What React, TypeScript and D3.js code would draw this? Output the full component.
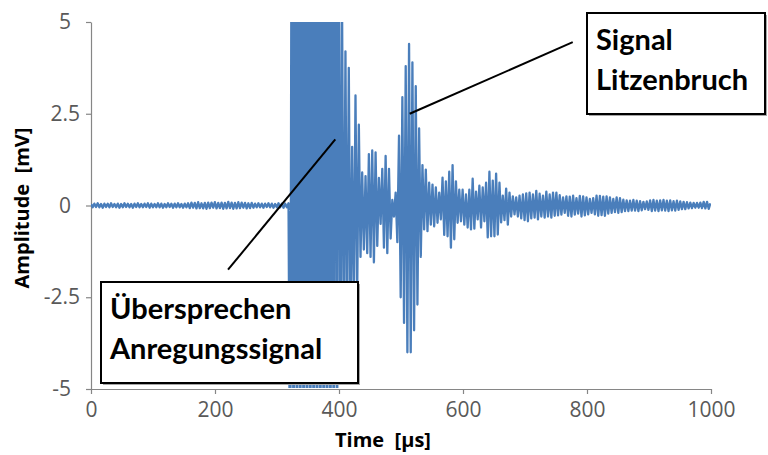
import * as d3 from 'd3'
import { useEffect, useRef } from 'react'

const width = 768, height = 455

// time between two successive extrema of the trace, in µs
const halfPeriod = 2.7

// extrema (mV), one every halfPeriod, in order
const quietNoise = [
  0.04, -0.05, 0.05, -0.04, 0.06, -0.05, 0.04, -0.06, 0.05, -0.04,
  0.05, -0.05, 0.06, -0.04, 0.04, -0.05, 0.05, -0.06, 0.04, -0.05,
  0.06, -0.04, 0.05, -0.05, 0.04, -0.06, 0.05, -0.04, 0.06, -0.05,
  0.04, -0.05, 0.05, -0.04, 0.06, -0.06, 0.05, -0.05, 0.04, -0.05,
  0.06, -0.05, 0.05, -0.06, 0.04, -0.05, 0.06, -0.04, 0.05, -0.06,
  0.05, -0.05, 0.06, -0.05, 0.04, -0.06, 0.05, -0.05, 0.06,
  -0.07, 0.08, -0.06, 0.07, -0.08, 0.09, -0.07, 0.06, -0.08, 0.07,
  -0.09, 0.08, -0.07, 0.08, -0.06, 0.09, -0.08, 0.07, -0.07, 0.08,
  -0.09, 0.07, -0.08, 0.1, -0.07, 0.08, -0.09, 0.07, -0.08, 0.09,
  -0.07, 0.08, -0.06, 0.07, -0.08, 0.06, -0.07, 0.07,
  -0.06, 0.05, -0.05, 0.06, -0.05, 0.05, -0.06, 0.05, -0.04, 0.06,
  -0.05, 0.05, -0.06, 0.04, -0.05, 0.06, -0.05, 0.05, -0.06, 0.05, -0.05, 0.06,
]
// saturated crosstalk: both sides run past the ±5 mV scale
const crosstalkBurst = [
  -9, 13, -9, 13, -9, 13, -9, 13, -9, 13,
  -9, 13, -9, 13, -9, 13, -9, 13, -9, 13,
  -9, 13, -9, 13, -9, 13, -9, 13,
]
const crosstalkDecay = [
  -7, 9, -4.6, 5.2, -4.0, 4.2, -3.6, 3.75, -3.2, 1.6,
  -2.8, 3.0, -2.4, 2.2, -1.4, 0.9, -1.2, 0.8, -1.3, 1.4,
  -1.4, 1.5, -1.55, 1.45, -1.1, 0.75, -0.5, 1.0, -1.15, 1.35,
  -1.3, 1.0, -0.9, 0.15, -0.3,
]
const breakPacket = [
  0.35, -1.0, 1.9, -2.5, 2.95, -3.2, 3.8, -4.0, 4.4, -4.0,
  3.9, -3.4, 3.25, -2.7, 2.1, -1.4, 1.1, -0.65, 0.98, -0.7,
]
const tail = [
  0.62, -0.52, 0.57, -0.57, 0.49, -0.47, 0.35, -0.38, 0.76, -0.8,
  0.66, -0.84, 0.92, -1.15, 1.1, -0.92, 0.66, -0.47, 0.43, -0.43,
  0.43, -0.52, 0.3, -0.6, 0.43, -0.65, 0.73, -0.63, 0.38, -0.38,
  0.54, -0.6, 0.49, -0.43, 0.62, -0.87, 0.92, -0.84, 0.68, -0.84,
  0.87, -0.79, 0.62, -0.46, 0.27, -0.4, 0.46, -0.52, 0.35, -0.3,
  0.25, -0.24, 0.22, -0.3, 0.27, -0.35, 0.3, -0.4, 0.33, -0.43,
  0.35, -0.35, 0.3, -0.33, 0.4, -0.38, 0.32, -0.3, 0.27, -0.33,
  0.38, -0.3, 0.3, -0.33, 0.35, -0.28, 0.35, -0.27, 0.28, -0.25,
  0.22, -0.2, 0.25, -0.28, 0.24, -0.3, 0.27, -0.25, 0.2, -0.22,
  0.26, -0.3, 0.25, -0.27, 0.22, -0.24, 0.18, -0.2, 0.2, -0.24,
  0.27, -0.28, 0.26, -0.26, 0.24, -0.28, 0.25, -0.22, 0.22, -0.2,
  0.18, -0.18, 0.22, -0.2, 0.2, -0.18, 0.16, -0.15, 0.14, -0.15,
  0.13, -0.14, 0.15, -0.14, 0.13, -0.15, 0.12, -0.13, 0.1, -0.1,
  0.11, -0.12, 0.14, -0.15, 0.15, -0.14, 0.13, -0.15, 0.14, -0.13,
  0.15, -0.14, 0.13, -0.15, 0.14, -0.13, 0.12, -0.14, 0.13, -0.12,
  0.11, -0.1, 0.1, -0.1, 0.09, -0.08, 0.08, -0.07, 0.07, -0.06,
  0.07, -0.06, 0.08, -0.07, 0.1, -0.08, 0.1, -0.09, 0.06,
]

const xTicks = [0, 200, 400, 600, 800, 1000]
const yTicks = [-5, -2.5, 0, 2.5, 5]

// callouts: pointer from/to in data units, box in pixels
const callouts = [
  { lines: ['Signal', 'Litzenbruch'], from: [514, 2.5], to: [777, 4.45], box: [587, 13, 178, 101] },
  { lines: ['Übersprechen', 'Anregungssignal'], from: [394, 1.8], to: [221, -1.75], box: [101, 282, 257, 101] },
]

const chart = (node: SVGSVGElement) => {
  const x = d3.scaleLinear().domain([0, 1000]).range([91, 711])
  const y = d3.scaleLinear().domain([-5, 5]).range([389, 22])

  const trace = [...quietNoise, ...crosstalkBurst, ...crosstalkDecay, ...breakPacket, ...tail]
    .map((v, i) => [i * halfPeriod, v] as [number, number])

  const svg = d3.select(node)
  svg.selectAll('*').remove()

  svg.append('defs').append('clipPath').attr('id', 'plotArea')
    .append('rect')
    .attr('x', 91).attr('y', 22).attr('width', 620).attr('height', 366)

  const yAxis = svg.append('g')
    .attr('transform', 'translate(91,0)')
    .call(
      d3.axisLeft(y).tickValues(yTicks).tickSize(5).tickSizeOuter(0).tickPadding(6)
        .tickFormat(d => String(d))
    )
  yAxis.selectAll('text').attr('dx', d => Number.isInteger(d) ? -9 : 0)

  const xAxis = svg.append('g')
    .attr('transform', 'translate(0,389)')
    .call(
      d3.axisBottom(x).tickValues(xTicks).tickSize(5).tickSizeOuter(0).tickPadding(8)
        .tickFormat(d => String(d))
    )

  for (const ax of [xAxis, yAxis]) {
    ax.select('.domain').attr('stroke', '#868686').attr('stroke-width', 1.2)
    ax.selectAll('.tick line').attr('stroke', '#868686').attr('stroke-width', 1.2)
    ax.selectAll('text')
      .attr('fill', '#595959')
      .attr('font-family', '"Open Sans", sans-serif')
      .attr('font-size', 21)
  }

  svg.append('text')
    .attr('x', 383).attr('y', 447)
    .attr('text-anchor', 'middle')
    .attr('font-family', '"Open Sans", sans-serif')
    .attr('font-weight', 'bold')
    .attr('font-size', 20)
    .style('white-space', 'pre')
    .text('Time  [µs]')

  svg.append('text')
    .attr('transform', 'translate(29,208) rotate(-90)')
    .attr('text-anchor', 'middle')
    .attr('font-family', '"Open Sans", sans-serif')
    .attr('font-weight', 'bold')
    .attr('font-size', 20)
    .style('white-space', 'pre')
    .text('Amplitude  [mV]')

  svg.append('path')
    .datum(trace)
    .attr('clip-path', 'url(#plotArea)')
    .attr('fill', 'none')
    .attr('stroke', '#4a7ebb')
    .attr('stroke-width', 2.3)
    .attr('stroke-linejoin', 'round')
    .attr('d', d3.line().x(d => x(d[0])).y(d => y(d[1])))

  for (const c of callouts) {
    svg.append('line')
      .attr('x1', x(c.from[0])).attr('y1', y(c.from[1]))
      .attr('x2', x(c.to[0])).attr('y2', y(c.to[1]))
      .attr('stroke', '#000').attr('stroke-width', 2)
    const [bx, by, bw, bh] = c.box
    svg.append('rect')
      .attr('x', bx + 2).attr('y', by + 2).attr('width', bw).attr('height', bh)
      .attr('fill', '#a6a6a6')
    svg.append('rect')
      .attr('x', bx).attr('y', by).attr('width', bw).attr('height', bh)
      .attr('fill', '#fff').attr('stroke', '#000').attr('stroke-width', 2)
    c.lines.forEach((t, i) => {
      svg.append('text')
        .attr('x', bx + 9).attr('y', by + 37 + i * 40)
        .attr('font-family', 'Lato, sans-serif')
        .attr('font-weight', 'bold')
        .attr('font-size', 29)
        .attr('fill', '#000')
        .text(t)
    })
  }
}

export default function App() {
  const ref = useRef<SVGSVGElement>(null)
  useEffect(() => {
    if (ref.current) chart(ref.current)
  }, [])
  return (
    <svg
      ref={ref}
      width={width}
      height={height}
      style={{ position: 'absolute', left: 0, top: 0, background: '#fff' }}
    />
  )
}
